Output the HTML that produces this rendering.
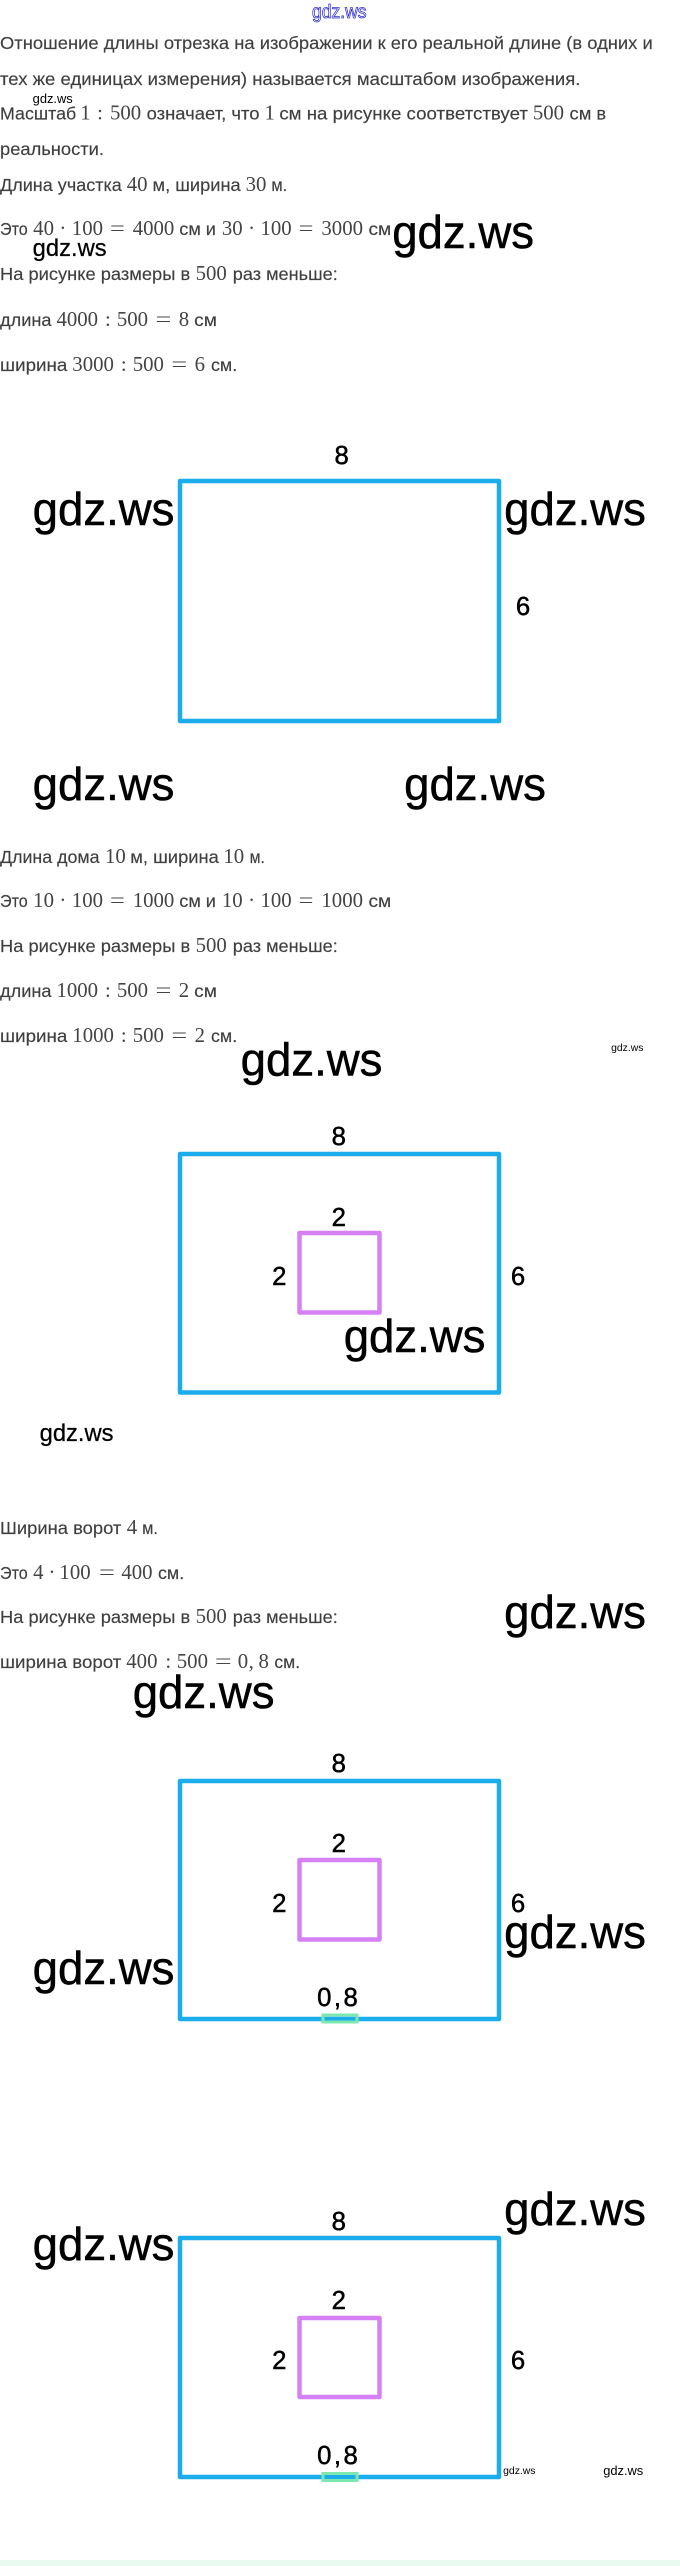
<!DOCTYPE html>
<html lang="ru"><head><meta charset="utf-8"><title>Масштаб</title>
<style>
html,body{margin:0;padding:0;background:#fff;width:680px;height:2566px;overflow:hidden}
svg{display:block}
.t{font:17.5px "Liberation Sans","Noto Sans CJK SC",sans-serif;fill:#3f3f3f;stroke:#3f3f3f;stroke-width:.15}
.m{font:21px "Liberation Serif",serif;fill:#444}
.w{font-family:"Liberation Sans",sans-serif;fill:#000}
.b{font-size:46px;stroke:#000;stroke-width:.5}.c{font-size:24px;stroke:#000;stroke-width:.25}.d{font-size:13px}.e{font-size:10.5px}
.n{font:26px "Liberation Sans",sans-serif;fill:#000;stroke:#000;stroke-width:.5;text-anchor:middle}
.k{letter-spacing:2.5px}
.o{fill:none;stroke:#1aaceb;stroke-width:4.5;stroke-linejoin:round}
.p{fill:none;stroke:#d580f5;stroke-width:4.5;stroke-linejoin:round}
.g{fill:none;stroke:#7ce8b0;stroke-width:3}
</style></head><body>
<svg width="680" height="2566" viewBox="0 0 680 2566" xmlns="http://www.w3.org/2000/svg">
<rect x="0" y="2560" width="680" height="6" fill="#e9fbf1"/>
<rect class="o" x="180" y="481" width="319" height="240"/>
<rect class="o" x="180" y="1154" width="319" height="238.5"/>
<rect class="p" x="299.5" y="1233" width="80" height="79.5"/>
<rect class="o" x="180" y="1781" width="319" height="238"/>
<rect class="p" x="299.5" y="1860" width="80" height="79.5"/>
<rect class="g" x="323" y="2015" width="34" height="7"/>
<rect class="o" x="180" y="2238" width="319" height="239"/>
<rect class="p" x="299.5" y="2318" width="80" height="79"/>
<rect class="g" x="323" y="2473.5" width="34" height="7"/>
<g transform="scale(.9905,1)">
<text class="t" x="0" y="49" textLength="659" lengthAdjust="spacingAndGlyphs">Отношение длины отрезка на изображении к его реальной длине (в одних и</text>
<text class="t" x="0" y="85" textLength="586" lengthAdjust="spacingAndGlyphs">тех же единицах измерения) называется масштабом изображения.</text>
<text class="t" x="0" y="119.5" textLength="77" lengthAdjust="spacingAndGlyphs">Масштаб</text>
<text class="m" x="81" y="119.5">1</text><text class="m" x="98" y="119.5">:</text><text class="m" x="111" y="119.5">500</text>
<text class="t" x="148" y="119.5" textLength="114" lengthAdjust="spacingAndGlyphs">означает, что</text>
<text class="m" x="267" y="119.5">1</text>
<text class="t" x="282" y="119.5" textLength="251" lengthAdjust="spacingAndGlyphs">см на рисунке соответствует</text>
<text class="m" x="538" y="119.5">500</text>
<text class="t" x="575" y="119.5" textLength="37" lengthAdjust="spacingAndGlyphs">см в</text>
<text class="t" x="0" y="155" textLength="105" lengthAdjust="spacingAndGlyphs">реальности.</text>
<text class="t" x="0" y="191" textLength="123" lengthAdjust="spacingAndGlyphs">Длина участка</text>
<text class="m" x="128" y="191">40</text>
<text class="t" x="154" y="191" textLength="89" lengthAdjust="spacingAndGlyphs">м, ширина</text>
<text class="m" x="248" y="191">30</text>
<text class="t" x="274" y="191" textLength="16" lengthAdjust="spacingAndGlyphs">м.</text>

<text class="t" x="0" y="235" textLength="28" lengthAdjust="spacingAndGlyphs">Это</text>
<text class="m" x="33.5" y="235">40</text><text class="m" x="60" y="235">·</text><text class="m" x="72.5" y="235">100</text><text class="m" x="111" y="235" textLength="15" lengthAdjust="spacingAndGlyphs">=</text><text class="m" x="134" y="235">4000</text>
<text class="t" x="181" y="235" textLength="37" lengthAdjust="spacingAndGlyphs">см и</text>
<text class="m" x="224" y="235">30</text><text class="m" x="250.5" y="235">·</text><text class="m" x="263" y="235">100</text><text class="m" x="301.5" y="235" textLength="15" lengthAdjust="spacingAndGlyphs">=</text><text class="m" x="324.5" y="235">3000</text>
<text class="t" x="372" y="235" textLength="23" lengthAdjust="spacingAndGlyphs">см</text>

<text class="t" x="0" y="280" textLength="192" lengthAdjust="spacingAndGlyphs">На рисунке размеры в</text>
<text class="m" x="197.5" y="280">500</text>
<text class="t" x="235" y="280" textLength="106" lengthAdjust="spacingAndGlyphs">раз меньше:</text>

<text class="t" x="0" y="326" textLength="52" lengthAdjust="spacingAndGlyphs">длина</text>
<text class="m" x="57" y="326">4000</text><text class="m" x="106" y="326">:</text><text class="m" x="118" y="326">500</text><text class="m" x="157" y="326" textLength="16" lengthAdjust="spacingAndGlyphs">=</text><text class="m" x="180.5" y="326">8</text>
<text class="t" x="196" y="326" textLength="23" lengthAdjust="spacingAndGlyphs">см</text>

<text class="t" x="0" y="371" textLength="68" lengthAdjust="spacingAndGlyphs">ширина</text>
<text class="m" x="73" y="371">3000</text><text class="m" x="122" y="371">:</text><text class="m" x="134" y="371">500</text><text class="m" x="173" y="371" textLength="16" lengthAdjust="spacingAndGlyphs">=</text><text class="m" x="196.5" y="371">6</text>
<text class="t" x="213" y="371" textLength="26.5" lengthAdjust="spacingAndGlyphs">см.</text>

<text class="t" x="0" y="863" textLength="100.5" lengthAdjust="spacingAndGlyphs">Длина дома</text>
<text class="m" x="106" y="863">10</text>
<text class="t" x="131.5" y="863" textLength="89.5" lengthAdjust="spacingAndGlyphs">м, ширина</text>
<text class="m" x="225.5" y="863">10</text>
<text class="t" x="252" y="863" textLength="15.5" lengthAdjust="spacingAndGlyphs">м.</text>

<text class="t" x="0" y="907" textLength="28" lengthAdjust="spacingAndGlyphs">Это</text>
<text class="m" x="33.5" y="907">10</text><text class="m" x="60" y="907">·</text><text class="m" x="72.5" y="907">100</text><text class="m" x="111" y="907" textLength="15" lengthAdjust="spacingAndGlyphs">=</text><text class="m" x="134" y="907">1000</text>
<text class="t" x="181" y="907" textLength="37" lengthAdjust="spacingAndGlyphs">см и</text>
<text class="m" x="224" y="907">10</text><text class="m" x="250.5" y="907">·</text><text class="m" x="263" y="907">100</text><text class="m" x="301.5" y="907" textLength="15" lengthAdjust="spacingAndGlyphs">=</text><text class="m" x="324.5" y="907">1000</text>
<text class="t" x="372" y="907" textLength="23" lengthAdjust="spacingAndGlyphs">см</text>

<text class="t" x="0" y="952" textLength="192" lengthAdjust="spacingAndGlyphs">На рисунке размеры в</text>
<text class="m" x="197.5" y="952">500</text>
<text class="t" x="235" y="952" textLength="106" lengthAdjust="spacingAndGlyphs">раз меньше:</text>

<text class="t" x="0" y="997" textLength="52" lengthAdjust="spacingAndGlyphs">длина</text>
<text class="m" x="57" y="997">1000</text><text class="m" x="106" y="997">:</text><text class="m" x="118" y="997">500</text><text class="m" x="157" y="997" textLength="16" lengthAdjust="spacingAndGlyphs">=</text><text class="m" x="180.5" y="997">2</text>
<text class="t" x="196" y="997" textLength="23" lengthAdjust="spacingAndGlyphs">см</text>

<text class="t" x="0" y="1042" textLength="68" lengthAdjust="spacingAndGlyphs">ширина</text>
<text class="m" x="73" y="1042">1000</text><text class="m" x="122" y="1042">:</text><text class="m" x="134" y="1042">500</text><text class="m" x="173" y="1042" textLength="16" lengthAdjust="spacingAndGlyphs">=</text><text class="m" x="196.5" y="1042">2</text>
<text class="t" x="213" y="1042" textLength="26.5" lengthAdjust="spacingAndGlyphs">см.</text>

<text class="t" x="0" y="1534" textLength="122.5" lengthAdjust="spacingAndGlyphs">Ширина ворот</text>
<text class="m" x="128" y="1534">4</text>
<text class="t" x="143.5" y="1534" textLength="16" lengthAdjust="spacingAndGlyphs">м.</text>

<text class="t" x="0" y="1579" textLength="28" lengthAdjust="spacingAndGlyphs">Это</text>
<text class="m" x="33.5" y="1579">4</text><text class="m" x="49" y="1579">·</text><text class="m" x="60" y="1579">100</text><text class="m" x="100" y="1579" textLength="16" lengthAdjust="spacingAndGlyphs">=</text><text class="m" x="122.5" y="1579">400</text>
<text class="t" x="159.5" y="1579" textLength="26.5" lengthAdjust="spacingAndGlyphs">см.</text>

<text class="t" x="0" y="1623" textLength="192" lengthAdjust="spacingAndGlyphs">На рисунке размеры в</text>
<text class="m" x="197.5" y="1623">500</text>
<text class="t" x="235" y="1623" textLength="106" lengthAdjust="spacingAndGlyphs">раз меньше:</text>

<text class="t" x="0" y="1668" textLength="122.5" lengthAdjust="spacingAndGlyphs">ширина ворот</text>
<text class="m" x="127.5" y="1668">400</text><text class="m" x="167" y="1668">:</text><text class="m" x="178.5" y="1668">500</text><text class="m" x="217" y="1668" textLength="17" lengthAdjust="spacingAndGlyphs">=</text><text class="m" x="240" y="1668">0</text><text class="m" x="251" y="1668">,</text><text class="m" x="261" y="1668">8</text>
<text class="t" x="277" y="1668" textLength="26" lengthAdjust="spacingAndGlyphs">см.</text>

<text class="n" x="345" y="464">8</text><text class="n" x="528" y="615">6</text>
<text class="n" x="342" y="1145">8</text><text class="n" x="342" y="1226">2</text><text class="n" x="282" y="1285">2</text><text class="n" x="523" y="1285">6</text>
<text class="n" x="342" y="1772">8</text><text class="n" x="342" y="1852">2</text><text class="n" x="282" y="1912">2</text><text class="n" x="523" y="1912">6</text><text class="n k" x="342" y="2006">0,8</text>
<text class="n" x="342" y="2230">8</text><text class="n" x="342" y="2309">2</text><text class="n" x="282" y="2369">2</text><text class="n" x="523" y="2369">6</text><text class="n k" x="342" y="2464">0,8</text>

<text x="315" y="18" font-family="Liberation Sans,sans-serif" font-size="19" fill="#fff" stroke="#3030d0" stroke-width=".8" textLength="55" lengthAdjust="spacingAndGlyphs">gdz.ws</text>
<text class="w b" x="396" y="248">gdz.ws</text>
<text class="w c" x="33" y="256">gdz.ws</text>
<text class="w d" x="33" y="103">gdz.ws</text>
<text class="w b" x="33" y="525">gdz.ws</text><text class="w b" x="509" y="525">gdz.ws</text>
<text class="w b" x="33" y="800">gdz.ws</text><text class="w b" x="408" y="800">gdz.ws</text>
<text class="w b" x="243" y="1075.5">gdz.ws</text><text class="w e" x="617" y="1051">gdz.ws</text>
<text class="w b" x="347" y="1352">gdz.ws</text>
<text class="w c" x="40" y="1441">gdz.ws</text>
<text class="w b" x="509" y="1628">gdz.ws</text>
<text class="w b" x="134" y="1708">gdz.ws</text>
<text class="w b" x="509" y="1948">gdz.ws</text>
<text class="w b" x="33" y="1984">gdz.ws</text>
<text class="w b" x="509" y="2225">gdz.ws</text>
<text class="w b" x="33" y="2260">gdz.ws</text>
<text class="w e" x="508" y="2474">gdz.ws</text>
<text class="w d" x="609" y="2475">gdz.ws</text>
</g>
</svg>
</body></html>
